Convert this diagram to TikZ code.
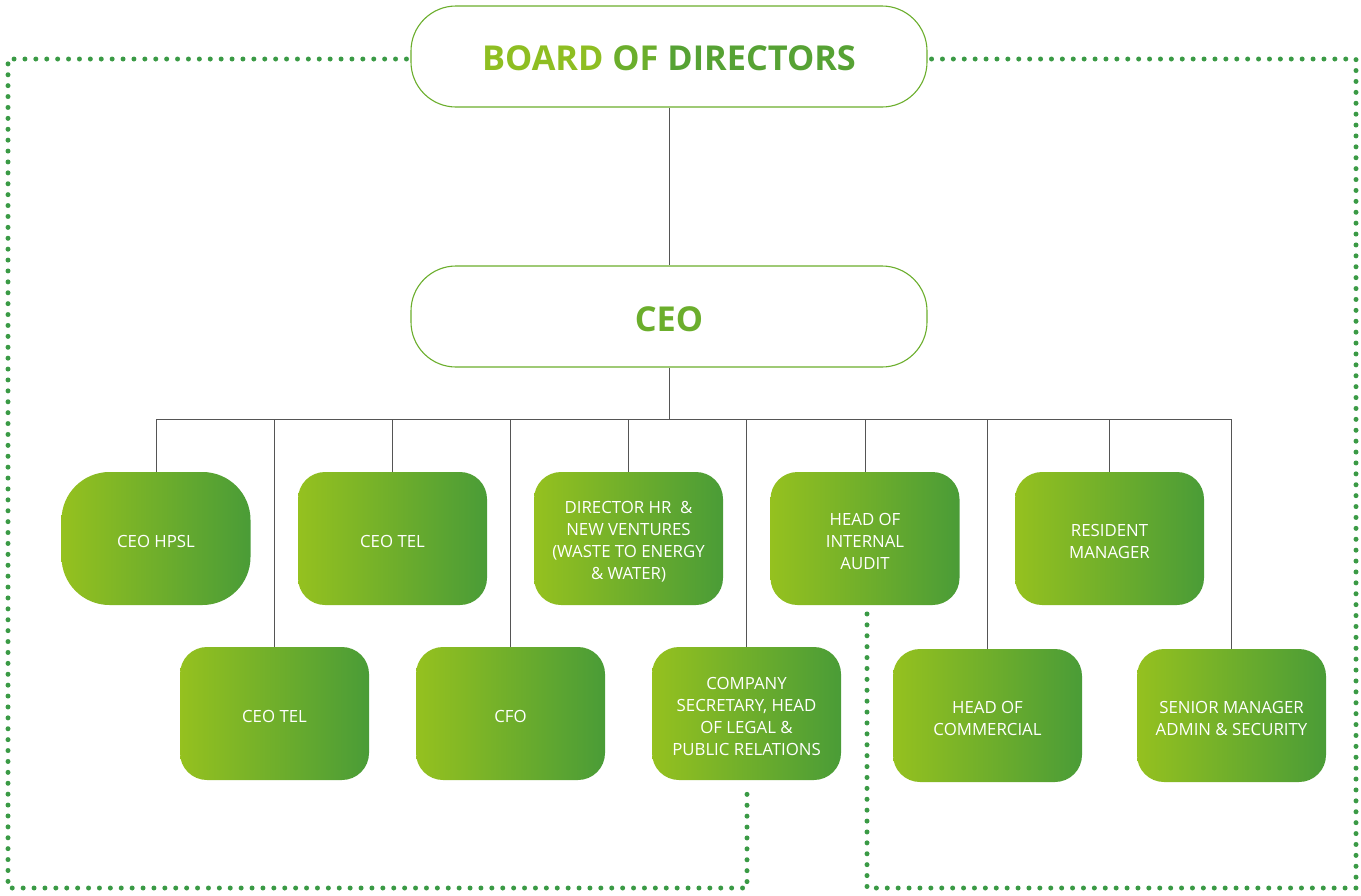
\documentclass[tikz,border=0pt]{standalone}
\usepackage{fontspec}
\setmainfont{Open Sans}
\definecolor{lime}{HTML}{95C11F}
\definecolor{dgreen}{HTML}{4A9C37}
\definecolor{dotgreen}{HTML}{3A9A45}
\definecolor{linegray}{HTML}{555555}
\definecolor{tA}{HTML}{8EBE22}
\definecolor{tB}{HTML}{6BAE2C}
\definecolor{tC}{HTML}{56A234}
\tikzset{
  topbox/.style={draw=tB, line width=1.1pt, rounded corners=45pt, minimum width=516pt, minimum height=101pt, inner sep=0pt, fill=white},
  gbox/.style={left color=lime, right color=dgreen, rounded corners=27pt, minimum width=189pt, minimum height=133pt, inner sep=0pt},
  gtext/.style={text=white, align=center, inner sep=0pt, font=\fontsize{16.8}{22}\selectfont},
  conn/.style={draw=linegray, line width=1pt},
  dotline/.style={draw=dotgreen, line width=5pt, line cap=round, dash pattern=on 0pt off 10.9pt},
}
\begin{document}
\begin{tikzpicture}[x=1pt,y=-1pt]
\useasboundingbox (0,0) rectangle (1361,895);
% top boxes
\node[topbox] (board) at (669,56.5) {};
\node[font=\fontsize{34.3}{40}\selectfont\bfseries] (boardtxt) at (669,58) {\textcolor{tA}{BOARD} \textcolor{tB}{OF} \textcolor{tC}{DIRECTORS}};
\node[topbox] (ceo) at (669,316.5) {};
\node[font=\fontsize{34.3}{40}\selectfont\bfseries, text=tB] (ceotxt) at (669,319) {CEO};
% row 1
\node[gbox, rounded corners=48pt] (hpsl) at (156,538.5) {};
\node[gbox] (tel1) at (392.5,538.5) {};
\node[gbox] (dir) at (628.5,538.5) {};
\node[gbox] (audit) at (865,538.5) {};
\node[gbox] (res) at (1109.5,538.5) {};
% row 2
\node[gbox] (tel2) at (274.5,713.5) {};
\node[gbox] (cfo) at (510.5,713.5) {};
\node[gbox] (sec) at (746.5,713.5) {};
\node[gbox] (com) at (987.5,715.5) {};
\node[gbox] (sen) at (1231.5,715.5) {};
% texts
\node[gtext] (hpslt) at ([yshift=-3pt]hpsl.center) {CEO HPSL};
\node[gtext] (tel1t) at ([yshift=-3pt]tel1.center) {CEO TEL};
\node[gtext] (dirt) at ([yshift=-3pt]dir.center) {DIRECTOR HR\ \ \&\\NEW VENTURES\\(WASTE TO ENERGY\\\& WATER)};
\node[gtext] (auditt) at ([yshift=-3pt]audit.center) {HEAD OF\\INTERNAL\\AUDIT};
\node[gtext] (rest) at ([yshift=-3pt]res.center) {RESIDENT\\MANAGER};
\node[gtext] (tel2t) at ([yshift=-3pt]tel2.center) {CEO TEL};
\node[gtext] (cfot) at ([yshift=-3pt]cfo.center) {CFO};
\node[gtext] (sect) at ([yshift=-3pt]sec.center) {COMPANY\\SECRETARY, HEAD\\OF LEGAL \&\\PUBLIC RELATIONS};
\node[gtext] (comt) at ([yshift=-3pt]com.center) {HEAD OF\\COMMERCIAL};
\node[gtext] (sent) at ([yshift=-3pt]sen.center) {SENIOR MANAGER\\ADMIN \& SECURITY};
% connectors
\coordinate (bus) at (669,419);
\coordinate (busL) at (156,419);
\coordinate (busR) at (1231.5,419);
\draw[conn] (board.south) -- (ceo.north);
\draw[conn] (ceo.south) -- (bus);
\draw[conn] (busL) -- (busR);
\foreach \n in {hpsl,tel1,dir,audit,res,tel2,cfo,sec,com,sen}{
  \draw[conn] (\n.north) -- (\n.north |- bus);
}
% dotted frame
\coordinate (tl) at (8,59);
\coordinate (bl) at (8,888);
\coordinate (bm) at (747,888);
\coordinate (tr) at (1356,59);
\coordinate (br) at (1356,888);
\coordinate (bm2) at (867,888);
\coordinate (secb) at (747,791);
\coordinate (auditb) at (867,606);
\draw[dotline] ([xshift=-4pt]board.west |- tl) -- (tl) -- (bl) -- (bm) -- (secb);
\draw[dotline] ([xshift=4pt]board.east |- tr) -- (tr) -- (br) -- (bm2) -- (auditb);
\end{tikzpicture}
\end{document}
